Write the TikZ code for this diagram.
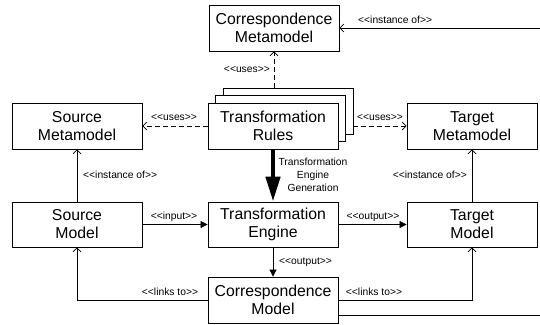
\documentclass[tikz,border=0pt]{standalone}
\usepackage{fontspec}
\setmainfont{Liberation Sans}
\usetikzlibrary{arrows.meta}
\newcommand\myl{<{}<}
\newcommand\myr{>{}>}
\begin{document}
\begin{tikzpicture}[x=1pt,y=-1pt,
  box/.style={draw,line width=0.8pt,fill=white,minimum width=130pt,minimum height=46pt,align=center,inner sep=0pt,font=\fontsize{15.8}{18}\selectfont},
  lbl/.style={font=\fontsize{10.3}{13}\selectfont,inner sep=1pt},
  conn/.style={line width=0.7pt},
  open/.style={conn,-{Straight Barb[length=4pt,width=8pt]}},
  filled/.style={conn,-{Triangle[length=7pt,width=7pt]}},
  usesarr/.style={open,dash pattern=on 5pt off 3pt}]
\useasboundingbox (0,0) rectangle (540,324);
% boxes
\node[box] (cmm) at (274,28) {Correspondence\\Metamodel};
\node[box] (rb) at (288,111) {};
\node[box] (rm) at (280.5,118.5) {};
\node[box] (rf) at (273,126) {Transformation\\Rules};
\node[box] (smm) at (77,126) {Source\\Metamodel};
\node[box] (tmm) at (472,126) {Target\\Metamodel};
\node[box,minimum height=45pt] (sm) at (77,224.5) {Source\\Model};
\node[box,minimum height=45pt] (eng) at (273,224.5) {Transformation\\Engine};
\node[box,minimum height=45pt] (tm) at (472,224.5) {Target\\Model};
\node[box] (cm) at (273,300) {Correspondence\\Model};
% free ends
\coordinate (rtop) at (540,28);
\coordinate (rbot) at (540,315);
% connectors
\draw[open] (rtop) -- (cmm.east);
\node[lbl,anchor=west] (lio) at (357,20) {\myl instance of\myr};
\draw[usesarr] (cmm.south |- rb.north) -- (cmm.south);
\node[lbl,anchor=east] (lu1) at (271,70) {\myl uses\myr};
\draw[usesarr] (rf.west) -- (smm.east);
\node[lbl] (lu2) at (174,118) {\myl uses\myr};
\draw[usesarr] (rb.east |- tmm.west) -- (tmm.west);
\node[lbl] (lu3) at (380,118) {\myl uses\myr};
\draw[line width=4.5pt,-{Triangle[length=25pt,width=14pt]}] (rf.south) -- (eng.north);
\node[lbl,align=center] (lgen) at (313,175) {Transformation\\Engine\\Generation};
\draw[open] (sm.north) -- (smm.south);
\node[lbl,anchor=west] (li1) at (82,175) {\myl instance of\myr};
\draw[open] (tm.north) -- (tmm.south);
\node[lbl,anchor=east] (li2) at (468,175) {\myl instance of\myr};
\draw[filled] (sm.east) -- (eng.west);
\node[lbl] (lin) at (174,217) {\myl input\myr};
\draw[filled] (eng.east) -- (tm.west);
\node[lbl] (lout1) at (373,217) {\myl output\myr};
\draw[filled] (eng.south) -- (cm.north);
\node[lbl,anchor=west] (lout2) at (278,262) {\myl output\myr};
\draw[open] (cm.west) -| (sm.south);
\node[lbl] (ll1) at (170,292) {\myl links to\myr};
\draw[open] (cm.east) -| (tm.south);
\node[lbl] (ll2) at (374,292) {\myl links to\myr};
\draw[conn] (cm.east |- rbot) -- (rbot);
\end{tikzpicture}
\end{document}
